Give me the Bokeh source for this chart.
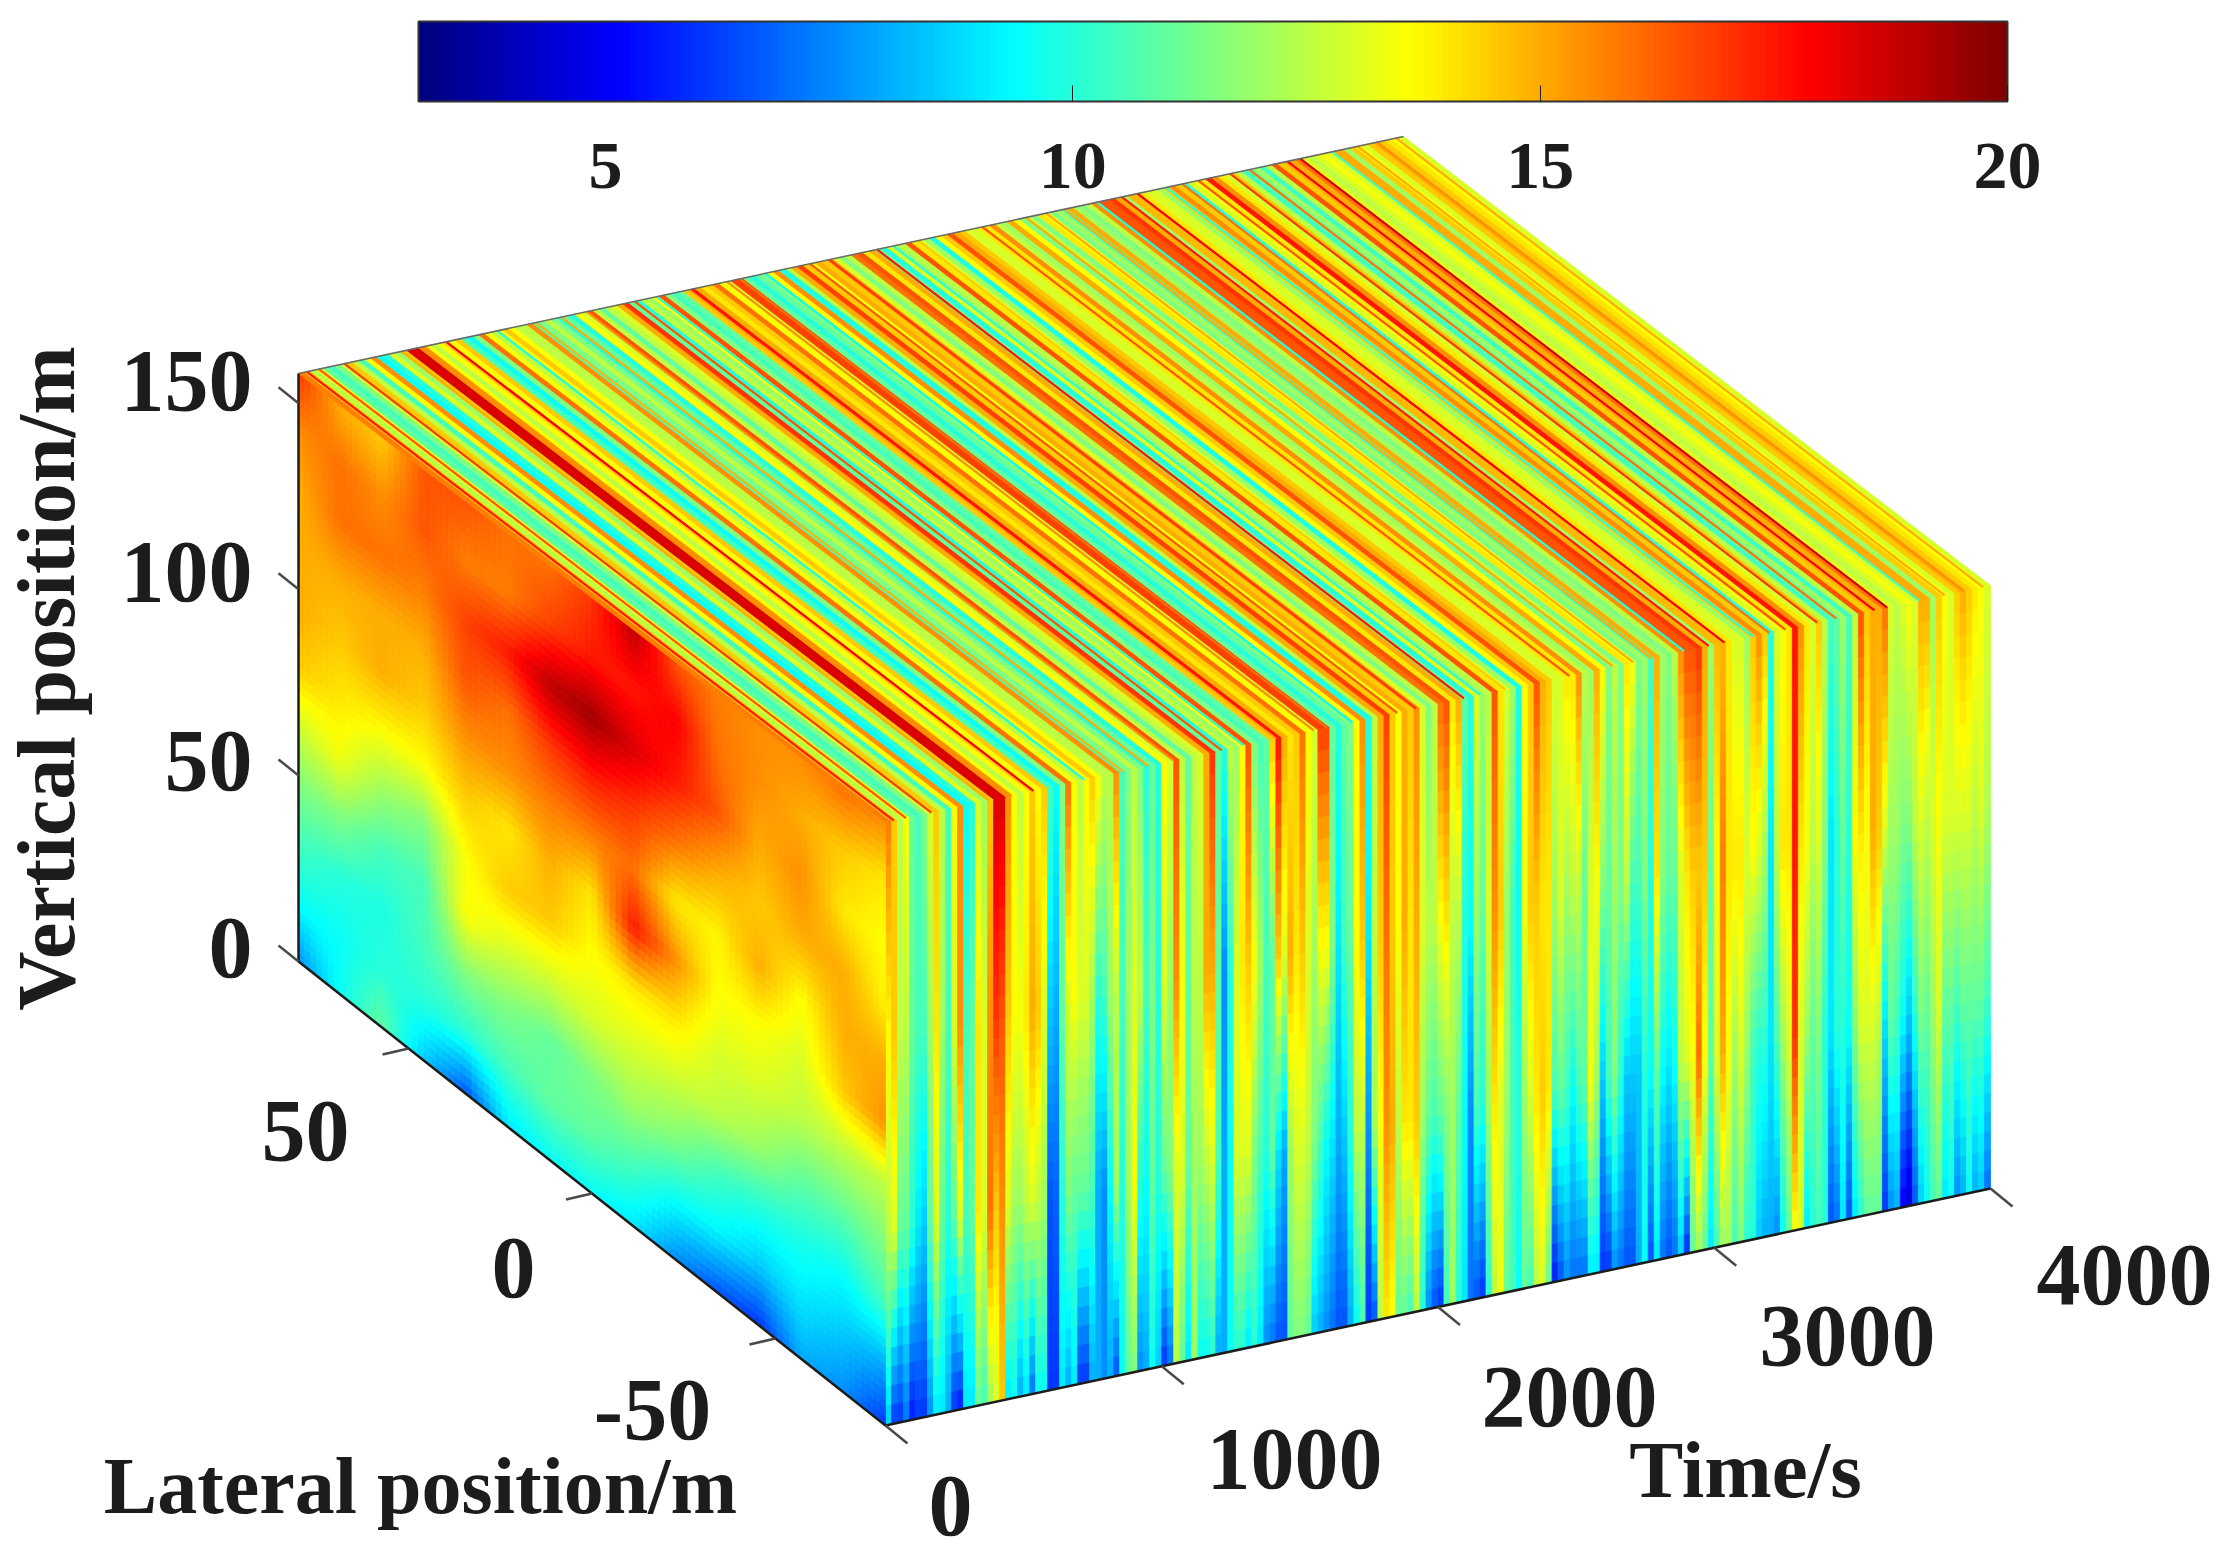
from math import pi
from bokeh.embed import file_html
from bokeh.resources import INLINE
from bokeh.plotting import figure
from bokeh.models import Range1d, ColorBar, LinearColorMapper, FixedTicker
from bokeh.core.properties import value

# ---- chart data: values ----------------------------------------------------
time_ticks = [0, 1000, 2000, 3000, 4000]
lateral_ticks = [-50, 0, 50]
height_ticks = [0, 50, 100, 150]
colorbar_ticks = [5, 10, 15, 20]
color_low, color_high = 3, 20
height_max = 158
lateral_min, lateral_max = -80, 80
time_max = 4000
front_heights = [158, 100, 50, 0]

# wind speed on the front slice, per time stripe: (z=158, z=100, z=50, z=0)
front_part_1 = [
 (15.8,13.6,12.5,8.5),(14.5,14.5,13,6),(12.5,12.5,11,6),(13.5,12.5,11,7),(11,11,10,5.5),(10.5,10.5,9,6),
 (11.5,10.5,8.5,6),(13,12,11,7.5),(14.5,14,13,9),(12.5,12,11,9),(10.5,10.5,10,8),(13.5,13,11,6),
 (15.5,15.5,13,5.5),(9.5,10.5,10.5,9),(10,11,11,9),(13,14,14,11),(12,13,13,10.5),(14.5,15.5,16,12),
 (18.5,17,14.5,13),(18.5,16.5,15.5,14.5),(15.5,14.5,13,9),(13.6,13.6,12,9.5),(12.5,13.5,12,8),(13.5,14,12.5,9),
 (14.5,15,13,7),(13.6,14.5,12.5,9.5),(14.5,13,12,9.5),(10.5,8.5,6.5,6),(9.5,8,6.8,6),(11.5,11,10,9),
 (16,13,11.5,8),(13.5,13.5,11,9),(12.5,13,11,6),(13.6,13,11,6),(14.5,12,10.5,8),(13.6,10,8,8),(12.5,10.5,7.5,7.5)]
front_part_2 = [
 (12.5,12,9.5,8),(15.5,12.5,12,6.5),(10.5,10.5,10,9.5),(11.5,12,12,11),(12.5,13,13.5,11.5),(11.5,12.5,10,7.5),
 (10,10.5,9.5,8),(11,11.5,11,9.5),(10,10,10,8.5),(13.6,13,11,6),(13,12,11.5,7),(16.5,15.5,13,12.5),
 (12.5,13.5,13,11),(11,11,11,9),(12.5,12.5,12,12),(13,12.5,12,9.5),(15,15,12.5,9.5),(17,15,13,10),
 (11,11,10.5,8),(10,7.5,8,8),(12.5,10,9.5,9.5),(12,13,13,10),(13.6,14,13,10),(16.5,14.5,13,9),
 (11.5,13.5,11.5,10),(10.5,12,10.5,9),(11,10.5,10,7.5),(14.5,11,11,7),(17.5,14.5,9,6.5),(15,13,8,6.5),
 (14,15,12,11),(14.5,14,13,11.5),(16,14.5,13,11.5),(13.6,13,12.5,11),(13,12,11.5,8.5),(16.8,13.5,10.5,8),(16.8,13.5,9.5,7.5)]
front_part_3 = [
 (11,11.5,9,7),(10,9,8,6.5),(11,10.5,8.5,6.5),(11.5,11,10,8),(13.6,13.6,12.5,9.5),(15.5,14.5,12.5,10.5),
 (10,9,7.5,6),(12.5,12.5,12,6.5),(15,14.5,13.5,12.5),(16.8,16,15.5,14),(14.5,14.5,15,13.5),(13.5,13.6,12.5,11),
 (15,15,14,11),(14.5,14,14,10.5),(15.5,15,14.5,12.5),(13,13,12,10),(11.5,12.5,11,7.5),(12.5,12.5,10.5,6.5),
 (16,13.5,11,6),(16.5,14,11.5,10.5),(14,12.5,12,12),(15,12.5,11,10),(11,10,9.5,9),(10,9.5,7.5,7),
 (13,12,10.5,6.5),(12,11,10,6),(12.5,13,12,10),(16.5,15.5,14,12.5),(14,14.5,13,13.5),(13,12,12,11),
 (12,10.5,10.5,10.5),(9.8,9.5,10,9.5),(13.6,13.4,12,11),(14.5,14.5,13,10.5),(16.5,14.5,14,12.5),(15,14,14.5,13),(14.5,14,14,11)]
front_part_4 = [
 (13,12,10.5,5.5),(13,13,11,6.5),(14,12,10.5,7.5),(14,12.5,9.5,7),(15.5,12.5,10.5,7),(12.5,11,11,7),
 (12,13,13.5,9),(15,13.5,12,9),(13.6,11.5,8.5,6),(11.5,11,10.5,6),(12.5,12,11.5,7.5),(11.5,11.5,10,7),
 (14,12.5,8.5,6.5),(13.5,10.5,8.5,6.5),(11.5,10.5,8.5,8),(12,11.5,10,9.5),(10.5,10,9.5,6.5),(15,14,11,9),
 (12,11.5,9.5,7),(11.5,11,9,6.5),(12.5,11,9.5,7),(15.5,13,12.5,8.5),(16.5,14,13,5.8),(16.5,14.5,13.5,11),
 (17,14.5,16,12),(15,14.5,13.5,11),(12,11,11,9),(14.8,13.5,13,10.5),(14.8,15.8,15,12),(14,14,13.5,12),
 (13,14,12,10.5),(13,14,13,11.5),(12,13,12,10),(14.5,13.5,10.5,10),(15.5,13,10,8.5),(14.5,12,10,8),(10,9,9,8)]
front_part_5 = [
 (13,12.5,10.5,7.5),(13.5,14,12,9.5),(14,14,13,11),(17.5,17.5,17,13.5),(15.5,14,13,13),(14,13.5,12,9),
 (13,12.5,11,10),(14.5,13,11.5,10.5),(12.5,11.5,10,10),(10.5,9,9,6.5),(11,10,10,7),(12,11,10,9),
 (10.5,10,9.5,6.5),(12.5,13.5,11.5,9),(16.5,14,13,10),(14.5,13.5,13,11),(15,15,13,11),(15,14.5,12.5,11),
 (16,13,9,6),(13,12,11,7.5),(12.5,12,10.5,8),(13,11.5,9.5,5),(13.5,11.5,8.5,4.5),(13,12.5,10,6.5),
 (15,13,11.5,8.5),(15,12.5,11,9.5),(12,13,12,10.5),(14.5,13.5,13,11),(13.6,13,11,9),(13,13,11,9.5),
 (14.5,13,10.5,7.5),(15,13,11,8),(14.5,13,11,9.5),(14,12.5,11,8),(13.6,13,11,8.5),(13,12.3,10.5,7)]

# thin stripes of the top slice, finer than the front columns: time and speed
top_line_times = [30, 74, 166, 374, 455, 535, 720, 859, 951, 1043, 1217, 1297, 1413, 1551, 1598, 1690, 1759, 1852,
                  1921, 2094, 2152, 2244, 2475, 2567, 2633, 2706, 2772, 2891, 2980, 3037, 3141, 3199, 3257, 3372,
                  3442, 3580, 3626, 3742, 3834, 3903, 3973]
top_line_speeds = [17.5, 16.5, 17, 15, 15.5, 18, 9.8, 14.8, 15, 15.5, 16.5, 10, 15, 15.5, 16, 9.5, 9.8, 16.5,
                   17, 17.5, 10, 14.5, 16.5, 15, 15, 15, 15, 10, 17.5, 18, 10, 16, 16.5, 17,
                   16, 18, 18.5, 10.5, 15, 15.5, 15]

# wind speed on the side slice: one list per lateral position, back (+80) to
# front (-80), each from the top of the slice (z=158) to the bottom (z=0)
side_columns = [
 [17,15.5,15,15,15,14.5,12.8,11.5,10.5,9.5,7.5],
 [15,16,16,15,14.5,14,13.4,11.5,10,9.5,9.5],
 [14.5,15.5,16,15,15,13.6,12,10.5,9.8,10,11],
 [16.5,16.5,15.8,15,14.5,13.6,11.5,10.5,10.5,10,8.5],
 [16.5,15.8,16.8,16.5,15.5,14.5,13.6,13.6,11.5,10,6.5],
 [16,15.8,17.5,16,15.5,14,14.5,13,11.5,10.5,9],
 [16,16.8,19,17,15.8,15,14.5,12.8,11,11,9.5],
 [17,17.5,19.5,17.5,15.8,14,13.6,13,11.5,11,9.5],
 [19,17.5,18.5,17,16,17.5,14,13,12,10.5,9],
 [16.5,18,17.5,16,14,15.5,14,12.8,11.5,9.5,7.5],
 [15.8,16,16.5,15,13.8,13.6,13,12.5,10.5,9.2,6.5],
 [15.5,15.5,15,14.5,15,13.6,13,12,10,8.5,6],
 [15.5,15,15.5,15,13.6,13,12.5,11,9.8,9,8],
 [16,14.5,14,15,15,14.5,12.5,11,9.5,8.5,7.5],
 [15.5,14,13.6,13.8,15,15.5,12.5,11.5,10.5,8,6],
]

axis_labels = ["Lateral position/m", "Time/s", "Vertical position/m"]

# ---- view: how the box sits on the page ------------------------------------
ORIGIN_X, ORIGIN_Y = 885, 1425
TIME_DX, TIME_DY = 1105, -237
LAT_DX, LAT_DY = -587, -464
H_FRONT, H_BACK = 603, 588
INK = "#1c1c1c"
TICK = "#4a4a4a"
PAGE_W, PAGE_H = 2215, 1552


def proj(t, lat, z):
    s = (lat - lateral_min) / (lateral_max - lateral_min)
    f = t / time_max
    h = H_FRONT + (H_BACK - H_FRONT) * s
    return (ORIGIN_X + TIME_DX * f + LAT_DX * s,
            ORIGIN_Y + TIME_DY * f + LAT_DY * s - h * z / height_max)


def jet(v):
    a = (v - color_low) / (color_high - color_low)
    a = min(max(a, 0.0), 1.0)
    ramp = lambda u: min(max(min(4 * u - 1.5, -4 * u + 4.5), 0.0), 1.0)
    r, g, b = ramp(a), ramp(a + 0.25), ramp(a + 0.5)
    return "#%02x%02x%02x" % (round(255 * r), round(255 * g), round(255 * b))


xs, ys, cs = [], [], []


def add_cell(corners, v):
    pts = [proj(*c) for c in corners]
    xs.append([q[0] for q in pts])
    ys.append([q[1] for q in pts])
    cs.append(jet(v))


# front slice: each stripe is shaded between the read heights
front_columns = front_part_1 + front_part_2 + front_part_3 + front_part_4 + front_part_5
n_t = len(front_columns)
dt = time_max / n_t
FRONT_BANDS = 10
for i, col in enumerate(front_columns):
    t0, t1 = i * dt, (i + 1) * dt
    for j in range(len(front_heights) - 1):
        z0, z1 = front_heights[j], front_heights[j + 1]
        for b in range(FRONT_BANDS):
            a = (b + 0.5) / FRONT_BANDS
            za, zb = z0 + (z1 - z0) * b / FRONT_BANDS, z0 + (z1 - z0) * (b + 1) / FRONT_BANDS
            add_cell([(t0, lateral_min, za), (t1, lateral_min, za), (t1, lateral_min, zb), (t0, lateral_min, zb)],
                     col[j] + (col[j + 1] - col[j]) * a)

# side slice, shaded the same way in both directions
n_l, n_z = len(side_columns), len(side_columns[0])
SIDE_BANDS = 7
for k in range(n_l - 1):
    for r in range(n_z - 1):
        v00, v01 = side_columns[k][r], side_columns[k][r + 1]
        v10, v11 = side_columns[k + 1][r], side_columns[k + 1][r + 1]
        for p_ in range(SIDE_BANDS):
            for q_ in range(SIDE_BANDS):
                u, w = (p_ + 0.5) / SIDE_BANDS, (q_ + 0.5) / SIDE_BANDS
                val = (v00 * (1 - u) * (1 - w) + v10 * u * (1 - w) + v01 * (1 - u) * w + v11 * u * w)
                la = lateral_max - (k + p_ / SIDE_BANDS) * (lateral_max - lateral_min) / (n_l - 1)
                lb = lateral_max - (k + (p_ + 1) / SIDE_BANDS) * (lateral_max - lateral_min) / (n_l - 1)
                za = height_max - (r + q_ / SIDE_BANDS) * height_max / (n_z - 1)
                zb = height_max - (r + (q_ + 1) / SIDE_BANDS) * height_max / (n_z - 1)
                add_cell([(0, la, za), (0, lb, za), (0, lb, zb), (0, la, zb)], val)

# top slice
for i, col in enumerate(front_columns):
    t0, t1 = i * dt, (i + 1) * dt
    add_cell([(t0, lateral_min, height_max), (t1, lateral_min, height_max),
              (t1, lateral_max, height_max), (t0, lateral_max, height_max)], col[0])

p = figure(width=PAGE_W, height=PAGE_H, x_range=Range1d(0, PAGE_W), y_range=Range1d(PAGE_H, 0),
           output_backend="svg", toolbar_location=None, min_border=0, outline_line_color=None)
p.axis.visible = False
p.grid.visible = False
p.patches(xs, ys, fill_color=cs, line_color=cs, line_width=0.8)

# fine stripes on the top slice
lx0, ly0 = zip(*[proj(t, lateral_min, height_max) for t in top_line_times])
lx1, ly1 = zip(*[proj(t, lateral_max, height_max) for t in top_line_times])
p.segment(list(lx0), list(ly0), list(lx1), list(ly1),
          line_color=[jet(v) for v in top_line_speeds], line_width=2.2)


def seg(a, b, color=INK, width=2.5):
    pa, pb = proj(*a), proj(*b)
    p.line([pa[0], pb[0]], [pa[1], pb[1]], line_color=color, line_width=width)


seg((0, lateral_min, 0), (time_max, lateral_min, 0))
seg((0, lateral_min, 0), (0, lateral_max, 0))
seg((0, lateral_max, 0), (0, lateral_max, height_max))
seg((0, lateral_max, height_max), (time_max, lateral_max, height_max), "#6a6a6a", 1.5)

# ticks
for t in time_ticks:
    x0, y0 = proj(t, lateral_min, 0)
    p.line([x0, x0 + 22], [y0, y0 + 18], line_color=TICK, line_width=2.5)
for l in lateral_ticks:
    x0, y0 = proj(0, l, 0)
    p.line([x0, x0 - 26], [y0, y0 + 6], line_color=TICK, line_width=2.5)
for z in height_ticks:
    x0, y0 = proj(0, lateral_max, z)
    p.line([x0, x0 - 20], [y0, y0 - 16], line_color=TICK, line_width=2.5)

serif = value("Liberation Serif")
TICK_PX = "88px"


def label(x, y, s, size, align="center", angle=0.0):
    p.text(x=[x], y=[y], text=[s], text_font=serif, text_font_style="bold", text_font_size=size,
           text_align=align, text_baseline="middle", text_color=INK, angle=angle)


for z, y in zip(height_ticks, [947, 760, 571, 380]):
    label(252, y, str(z), TICK_PX, "right")
for l, (x, y) in zip(lateral_ticks, [(652, 1409), (513, 1267), (305, 1130)]):
    label(x, y, str(l), TICK_PX)
for t, (x, y) in zip(time_ticks, [(950, 1505), (1294, 1458), (1569, 1396), (1847, 1335), (2124, 1274)]):
    label(x, y, str(t), TICK_PX)
label(420, 1485, axis_labels[0], "80px")
label(1745, 1469, axis_labels[1], "81px")
label(46, 678, axis_labels[2], "82px", angle=pi / 2)

# colour bar
mapper = LinearColorMapper(palette=[jet(color_low + (color_high - color_low) * i / 255) for i in range(256)],
                           low=color_low, high=color_high)
bar = ColorBar(color_mapper=mapper, orientation="horizontal", width=1589, height=80,
               location=(418, 1362), padding=0, ticker=FixedTicker(ticks=colorbar_ticks),
               major_label_text_font="Liberation Serif", major_label_text_font_style="bold",
               major_label_text_font_size="68px", major_label_text_color=INK,
               major_tick_in=16, major_tick_out=0, major_tick_line_color=INK,
               minor_tick_line_color=None, bar_line_color="#333333", bar_line_width=2,
               label_standoff=42, background_fill_color=None, border_line_color=None)
p.add_layout(bar)

open("out.html", "w").write(file_html(p, INLINE))
